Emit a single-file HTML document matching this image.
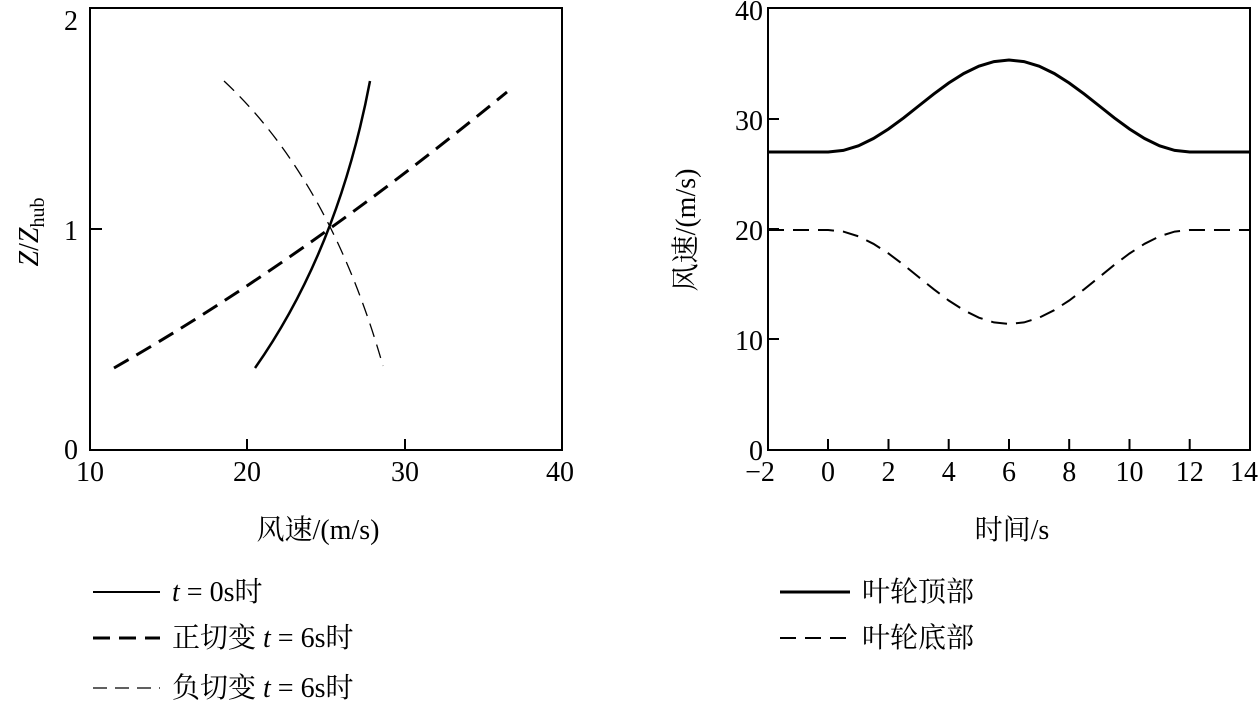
<!DOCTYPE html>
<html><head><meta charset="utf-8"><style>
html,body{margin:0;padding:0;background:#fff;}
svg{display:block;font-family:"Liberation Serif","Noto Serif CJK SC","Noto Sans CJK SC",serif;}
</style></head><body>
<svg width="1260" height="702" viewBox="0 0 1260 702" xmlns="http://www.w3.org/2000/svg">
<g fill="none" stroke="#000">
<rect x="90" y="8" width="472" height="442" stroke-width="2"/>
<line x1="247" y1="450" x2="247" y2="439" stroke-width="2"/>
<line x1="405" y1="450" x2="405" y2="439" stroke-width="2"/>
<line x1="90" y1="229" x2="102" y2="229" stroke-width="2"/>
<path stroke-width="2.5" d="M255,368 Q338,250 370,81"/>
<path stroke-width="3" stroke-dasharray="17,9" d="M114,368 Q300,262 507,92"/>
<path stroke-width="1.3" stroke-dasharray="14,8" d="M224,81 Q330,180 383,366"/>
<rect x="768" y="8" width="482" height="442" stroke-width="2"/>
<g stroke-width="2">
<line x1="828" y1="450" x2="828" y2="439"/><line x1="888.5" y1="450" x2="888.5" y2="439"/>
<line x1="948.7" y1="450" x2="948.7" y2="439"/><line x1="1009" y1="450" x2="1009" y2="439"/>
<line x1="1069.2" y1="450" x2="1069.2" y2="439"/><line x1="1129.5" y1="450" x2="1129.5" y2="439"/>
<line x1="1189.7" y1="450" x2="1189.7" y2="439"/>
<line x1="768" y1="339" x2="779" y2="339"/><line x1="768" y1="229" x2="779" y2="229"/><line x1="768" y1="119" x2="779" y2="119"/>
</g>
<polyline stroke-width="3" points="768,152 828.2,152 843.3,150.4 858.4,145.8 873.4,138.5 888.5,129 903.6,117.9 918.6,106 933.7,94.1 948.7,83 963.8,73.5 978.9,66.2 994,61.6 1009,60 1024,61.6 1039.1,66.2 1054.2,73.5 1069.2,83 1084.3,94.1 1099.4,106 1114.4,117.9 1129.5,129 1144.6,138.5 1159.6,145.8 1174.7,150.4 1189.7,152 1250,152"/>
<polyline stroke-width="2" stroke-dasharray="16,9" points="768,230 828.2,230 843.3,231.6 858.4,236.3 873.4,243.8 888.5,253.5 903.6,264.8 918.6,277 933.7,289.2 948.7,300.5 963.8,310.2 978.9,317.7 994,322.4 1009,324 1024,322.4 1039.1,317.7 1054.2,310.2 1069.2,300.5 1084.3,289.2 1099.4,277 1114.4,264.8 1129.5,253.5 1144.6,243.8 1159.6,236.3 1174.7,231.6 1189.7,230 1250,230"/>
<line x1="93" y1="592" x2="160" y2="592" stroke-width="2"/>
<line x1="93" y1="638" x2="160" y2="638" stroke-width="3" stroke-dasharray="17,9"/>
<line x1="93" y1="688" x2="160" y2="688" stroke-width="1.3" stroke-dasharray="14,8"/>
<line x1="780" y1="592" x2="850" y2="592" stroke-width="3"/>
<line x1="780" y1="638" x2="850" y2="638" stroke-width="2" stroke-dasharray="16,9"/>
</g>
<g font-size="28" fill="#000">
<text x="90" y="481" text-anchor="middle">10</text>
<text x="247" y="481" text-anchor="middle">20</text>
<text x="405" y="481" text-anchor="middle">30</text>
<text x="560" y="481" text-anchor="middle">40</text>
<text x="78" y="30" text-anchor="end">2</text>
<text x="78" y="240" text-anchor="end">1</text>
<text x="78" y="459" text-anchor="end">0</text>
<text x="318" y="539" text-anchor="middle">风速/(m/s)</text>
<text transform="translate(38,232) rotate(-90)" text-anchor="middle"><tspan font-style="italic">Z</tspan>/<tspan font-style="italic">Z</tspan><tspan font-size="20" dy="6">hub</tspan></text>
<text x="760" y="481" text-anchor="middle">−2</text>
<text x="828" y="481" text-anchor="middle">0</text>
<text x="888.5" y="481" text-anchor="middle">2</text>
<text x="948.7" y="481" text-anchor="middle">4</text>
<text x="1009" y="481" text-anchor="middle">6</text>
<text x="1069.2" y="481" text-anchor="middle">8</text>
<text x="1129.5" y="481" text-anchor="middle">10</text>
<text x="1189.7" y="481" text-anchor="middle">12</text>
<text x="1244" y="481" text-anchor="middle">14</text>
<text x="763" y="20" text-anchor="end">40</text>
<text x="763" y="130" text-anchor="end">30</text>
<text x="763" y="240" text-anchor="end">20</text>
<text x="763" y="350" text-anchor="end">10</text>
<text x="763" y="460" text-anchor="end">0</text>
<text x="1012" y="539" text-anchor="middle">时间/s</text>
<text transform="translate(695,230) rotate(-90)" text-anchor="middle">风速/(m/s)</text>
<text x="172" y="601"><tspan font-style="italic">t</tspan> = 0s时</text>
<text x="172" y="647">正切变 <tspan font-style="italic">t</tspan> = 6s时</text>
<text x="172" y="697">负切变 <tspan font-style="italic">t</tspan> = 6s时</text>
<text x="862" y="601">叶轮顶部</text>
<text x="862" y="647">叶轮底部</text>
</g>
</svg>
</body></html>
